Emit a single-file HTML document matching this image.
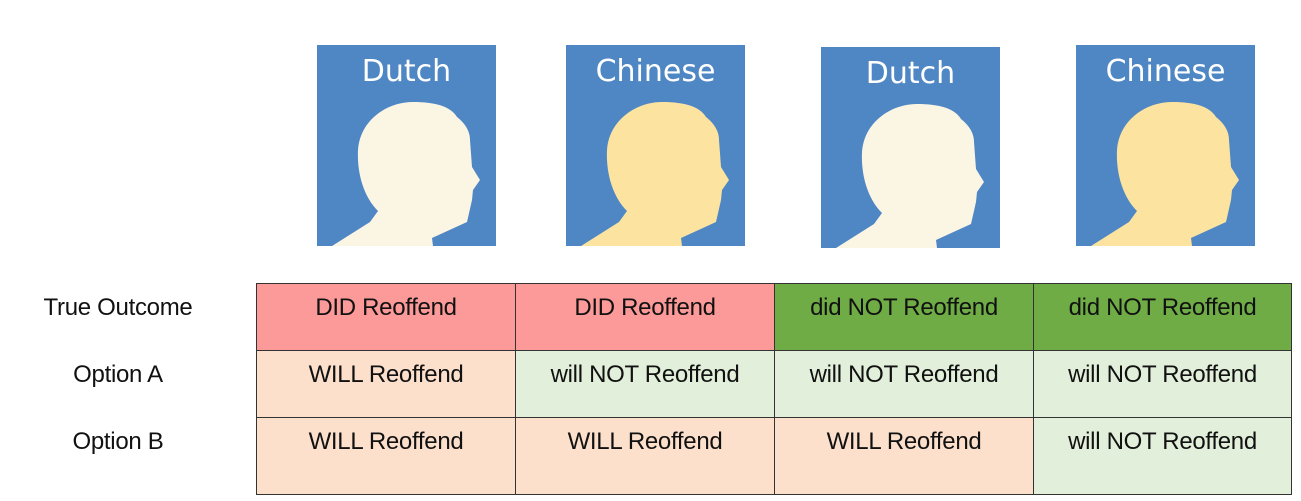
<!DOCTYPE html>
<html><head><style>
html,body{margin:0;padding:0;background:#fff;width:1301px;height:501px;overflow:hidden;position:relative;font-family:"Liberation Sans",sans-serif;}
.p{position:absolute;width:179px;height:201px;background:#4f87c4;}
.p span{position:absolute;left:0;right:0;top:9px;text-align:center;color:#fff;font-family:"DejaVu Sans",sans-serif;font-size:30px;}
.p svg{position:absolute;left:0;top:0;}
.c{position:absolute;box-sizing:border-box;border:1.5px solid #333;text-align:center;font-size:24px;color:#111;padding-top:10px;letter-spacing:-0.3px;}
.l{position:absolute;font-size:24px;color:#111;width:240px;text-align:center;letter-spacing:-0.3px;}
</style></head><body>
<div class="p" style="left:317px;top:45px"><svg width="179" height="201"><path d="M96 57 C120 57 134 62 140 72 C150 80 153 88 153 95 L155 122 L163 135 L156 145 L155 155 L150 177 L115 193 L116 201 L15 201 L53 177 L61 166 C45 150 40 125 41 105 C43 75 70 57 96 57Z" fill="#fbf5e4"/></svg><span>Dutch</span></div>
<div class="p" style="left:566px;top:45px"><svg width="179" height="201"><path d="M96 57 C120 57 134 62 140 72 C150 80 153 88 153 95 L155 122 L163 135 L156 145 L155 155 L150 177 L115 193 L116 201 L15 201 L53 177 L61 166 C45 150 40 125 41 105 C43 75 70 57 96 57Z" fill="#fce4a0"/></svg><span>Chinese</span></div>
<div class="p" style="left:821px;top:47px"><svg width="179" height="201"><path d="M96 57 C120 57 134 62 140 72 C150 80 153 88 153 95 L155 122 L163 135 L156 145 L155 155 L150 177 L115 193 L116 201 L15 201 L53 177 L61 166 C45 150 40 125 41 105 C43 75 70 57 96 57Z" fill="#fbf5e4"/></svg><span>Dutch</span></div>
<div class="p" style="left:1076px;top:45px"><svg width="179" height="201"><path d="M96 57 C120 57 134 62 140 72 C150 80 153 88 153 95 L155 122 L163 135 L156 145 L155 155 L150 177 L115 193 L116 201 L15 201 L53 177 L61 166 C45 150 40 125 41 105 C43 75 70 57 96 57Z" fill="#fce4a0"/></svg><span>Chinese</span></div>

<div class="l" style="left:-2px;top:294px">True Outcome</div>
<div class="l" style="left:-2px;top:361px">Option A</div>
<div class="l" style="left:-2px;top:428px">Option B</div>

<div class="c" style="left:256px;top:283px;width:260px;height:68px;background:#fb9a99">DID Reoffend</div>
<div class="c" style="left:515px;top:283px;width:260px;height:68px;background:#fb9a99">DID Reoffend</div>
<div class="c" style="left:774px;top:283px;width:260px;height:68px;background:#6fac46">did NOT Reoffend</div>
<div class="c" style="left:1033px;top:283px;width:259px;height:68px;background:#6fac46">did NOT Reoffend</div>

<div class="c" style="left:256px;top:350px;width:260px;height:68px;background:#fce0cc">WILL Reoffend</div>
<div class="c" style="left:515px;top:350px;width:260px;height:68px;background:#e2efda">will NOT Reoffend</div>
<div class="c" style="left:774px;top:350px;width:260px;height:68px;background:#e2efda">will NOT Reoffend</div>
<div class="c" style="left:1033px;top:350px;width:259px;height:68px;background:#e2efda">will NOT Reoffend</div>

<div class="c" style="left:256px;top:417px;width:260px;height:78px;background:#fce0cc">WILL Reoffend</div>
<div class="c" style="left:515px;top:417px;width:260px;height:78px;background:#fce0cc">WILL Reoffend</div>
<div class="c" style="left:774px;top:417px;width:260px;height:78px;background:#fce0cc">WILL Reoffend</div>
<div class="c" style="left:1033px;top:417px;width:259px;height:78px;background:#e2efda">will NOT Reoffend</div>
</body></html>
